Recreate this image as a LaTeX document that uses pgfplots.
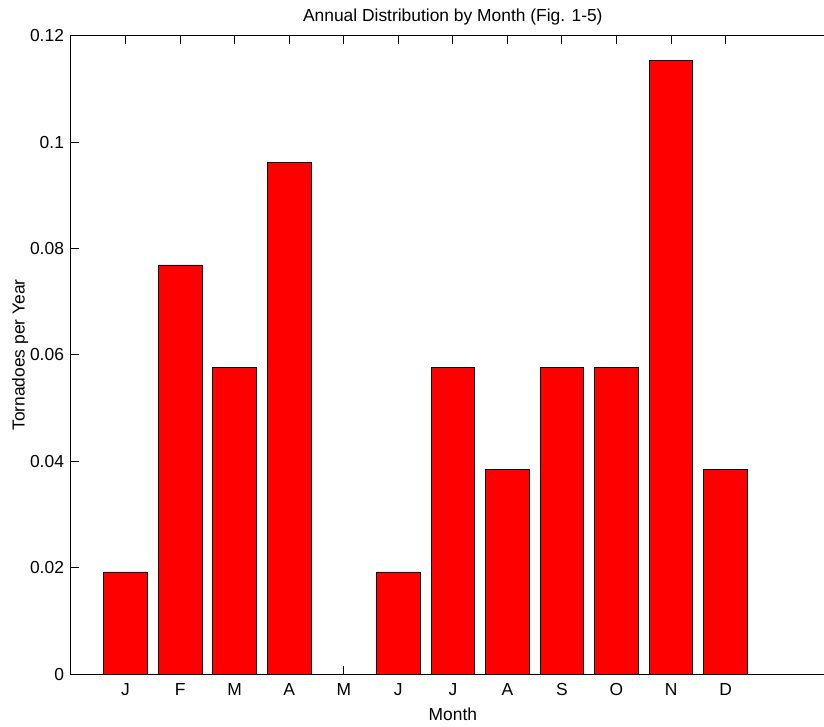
\documentclass[border=0pt]{standalone}
\usepackage{pgfplots}
\pgfplotsset{compat=1.18}
\usepackage{fontspec}
\setmainfont{Liberation Sans}
\begin{document}
\begin{tikzpicture}
\begin{axis}[
  at={(0,0)}, anchor=south west,
  scale only axis,
  width=381.85pt, height=319.3pt,
  xmin=0, xmax=14, ymin=0, ymax=0.12,
  ybar, bar width=0.8,
  xtick={1,...,12},
  xticklabels={J,F,M,A,M,J,J,A,S,O,N,D},
  ytick={0,0.02,0.04,0.06,0.08,0.1,0.12},
  yticklabels={0,0.02,0.04,0.06,0.08,0.1,0.12},
  tick align=inside,
  major tick length=4pt,
  tick style={black, line width=0.5pt},
  axis line style={black, line width=0.5pt},
  /pgf/number format/assume math mode=true,
  ticklabel style={font=\fontsize{8.7}{10}\selectfont},
  label style={font=\fontsize{8.7}{10}\selectfont},
  title style={font=\fontsize{8.7}{10}\selectfont, yshift=-4pt},
  title={Annual Distribution by Month (Fig. 1-5)},
  xlabel={Month},
  ylabel={Tornadoes per Year},
  xlabel style={yshift=1pt},
  ylabel style={yshift=-6pt},
  xticklabel style={yshift=-1pt},
]
\addplot[fill=red, draw=black, line width=0.4pt] coordinates {
 (1,0.01923) (2,0.07692) (3,0.05769) (4,0.09615) (5,0) (6,0.01923)
 (7,0.05769) (8,0.03846) (9,0.05769) (10,0.05769) (11,0.11538) (12,0.03846)
};
\end{axis}
\pgfresetboundingbox
\useasboundingbox (-35.5pt,-26.35pt) rectangle (376.5pt,337.15pt);
\end{tikzpicture}
\end{document}
